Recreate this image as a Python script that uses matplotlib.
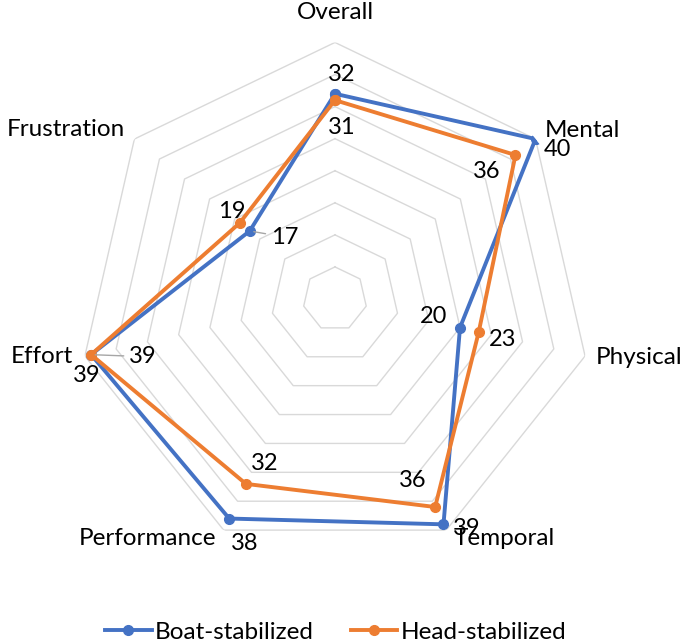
import numpy as np
import matplotlib.pyplot as plt

# Données du graphique radar
categories = ["Overall", "Mental", "Physical", "Temporal", "Performance", "Effort", "Frustration"]
boat = [32, 40, 20, 39, 38, 39, 17]
head = [31, 36, 23, 36, 32, 39, 19]
levels = [5, 10, 15, 20, 25, 30, 35, 40]

plt.rcParams["font.family"] = ["Lato", "DejaVu Sans"]

BLUE = "#4472C4"
ORANGE = "#ED7D31"

fig = plt.figure(figsize=(6.85, 6.42), dpi=100)
ax = fig.add_axes([0.1145, 0.1346, 0.749, 0.7994], projection="polar")
ax.set_theta_offset(np.pi / 2)
ax.set_theta_direction(-1)
ax.set_ylim(0, 40)
ax.grid(False)
ax.set_xticks([])
ax.set_yticks([])
ax.spines["polar"].set_visible(False)

n = len(categories)
angles = [2 * np.pi * i / n for i in range(n)]
closed = angles + angles[:1]

# grille heptagonale
for lv in levels:
    ax.plot(closed, [lv] * (n + 1), color="#D9D9D9", lw=1, zorder=0)

ax.plot(closed, boat + boat[:1], color=BLUE, lw=2.8, marker="o", ms=7,
        label="Boat-stabilized", zorder=3)
ax.plot(closed, head + head[:1], color=ORANGE, lw=2.8, marker="o", ms=7,
        label="Head-stabilized", zorder=4)

px = 0.72  # pixels -> points

# étiquettes des catégories (décalages en pixels, y vers le haut)
cat_off = [(0, 30, "center"), (9, 9, "left"), (11, -1, "left"), (7, -8, "left"),
           (-7, -8, "right"), (-12, 0, "right"), (-9, 10, "right")]
for a, lab, (dx, dy, ha) in zip(angles, categories, cat_off):
    ax.annotate(lab, xy=(a, 40), xytext=(dx * px, dy * px), textcoords="offset points",
                ha=ha, va="center", fontsize=17.5, annotation_clip=False)

# étiquettes de valeurs (décalages en pixels, y vers le bas)
boat_off = [(7, -19), (22, 10), (-26, -11), (23, 4), (15, 25), (-4, 21), (35, 6)]
head_off = [(7, 27), (-29, 16), (24, 8), (-22, -26), (19, -20), (52, 2), (-8, -12)]
leader_boat = [False] * 6 + [True]
leader_head = [False] * 5 + [True, False]

def put_labels(vals, offs, leaders):
    for a, v, (dx, dy), ld in zip(angles, vals, offs, leaders):
        kw = {}
        if ld:
            kw["arrowprops"] = dict(arrowstyle="-", color="#A6A6A6", lw=1,
                                    shrinkA=2, shrinkB=3)
        ax.annotate(str(v), xy=(a, v), xytext=(dx * px, -dy * px),
                    textcoords="offset points", ha="center", va="center",
                    fontsize=17, zorder=5, annotation_clip=False, **kw)

put_labels(boat, boat_off, leader_boat)
put_labels(head, head_off, leader_head)

fig.legend(loc="lower center", bbox_to_anchor=(0.49, -0.035), ncol=2, frameon=False,
           fontsize=17.5, handlelength=1.9, handletextpad=0.15, columnspacing=1.5)

fig.savefig("out.png", dpi=100)
